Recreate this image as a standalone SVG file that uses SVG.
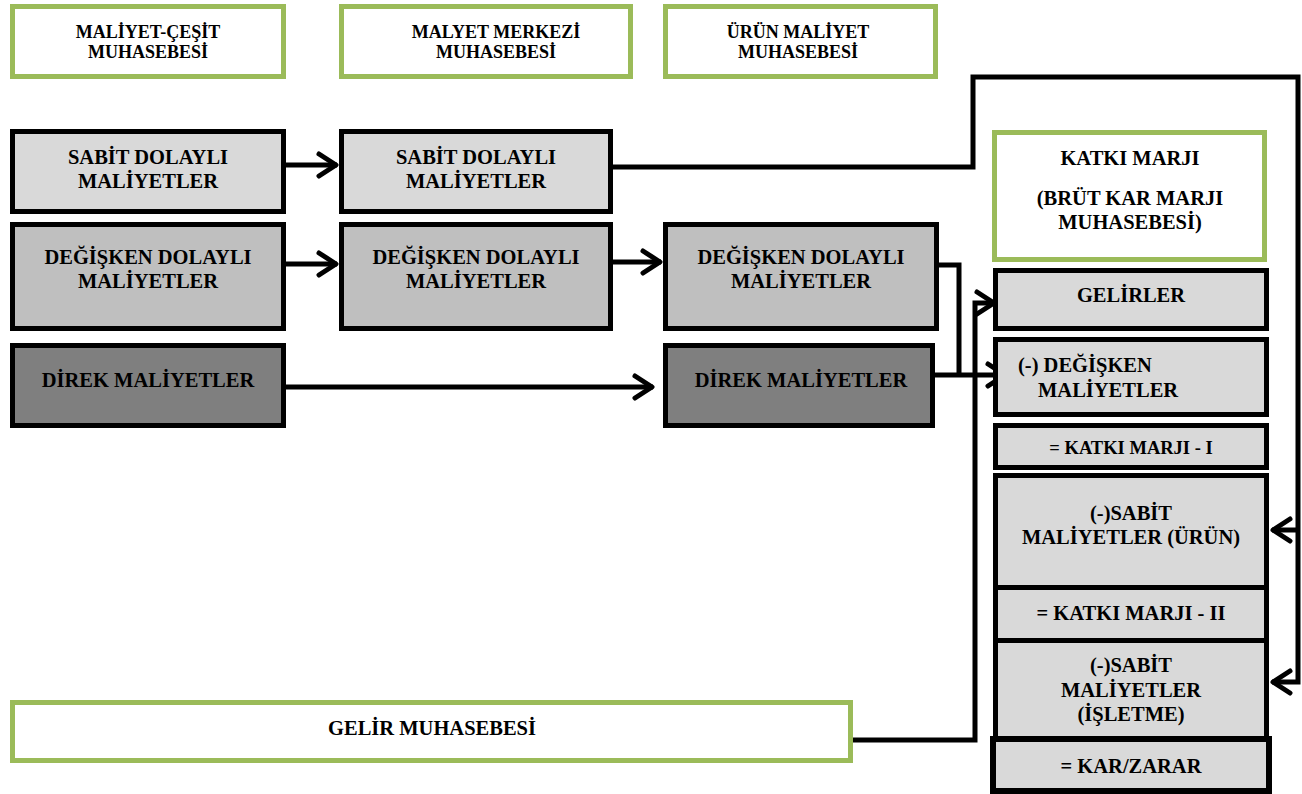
<svg xmlns="http://www.w3.org/2000/svg" width="1302" height="794" viewBox="0 0 1302 794">
<style>
text{font-family:"Liberation Serif","Times New Roman",serif;font-weight:bold;fill:#000;text-anchor:middle}
.t18{font-size:18px}
.t20{font-size:20.5px}
.t185{font-size:18.5px}
.g{fill:#fff;stroke:#9bbb59;stroke-width:5}
.b{stroke:#000;stroke-width:5}
.l1{fill:#d9d9d9}
.l2{fill:#bfbfbf}
.l3{fill:#7f7f7f}
.c{fill:none;stroke:#000;stroke-width:5;stroke-linejoin:miter}
.s{text-anchor:start}
</style>
<defs>
<marker id="ah" markerUnits="userSpaceOnUse" markerWidth="30" markerHeight="30" viewBox="-25 -15 30 30" refX="0" refY="0" orient="auto">
<path d="M-18,-11 L-1,0 L-18,11" fill="none" stroke="#000" stroke-width="5" stroke-linecap="round" stroke-linejoin="round"/>
</marker>
</defs>
<rect width="1302" height="794" fill="#fff"/>
<g id="connectors">
<path class="c" d="M286,165 H337" marker-end="url(#ah)"/>
<path class="c" d="M286,264 H337" marker-end="url(#ah)"/>
<path class="c" d="M613,262 H661" marker-end="url(#ah)"/>
<path class="c" d="M286,387 H653" marker-end="url(#ah)"/>
<path class="c" d="M613,167 H973 V77 H1298 V682 H1272" marker-end="url(#ah)"/>
<path class="c" d="M1298,530 H1272" marker-end="url(#ah)"/>
<path class="c" d="M939,265 H959 V375"/>
<path class="c" d="M935,375 H1006" marker-end="url(#ah)"/>
<path class="c" d="M853,740 H975 V303 H995" marker-end="url(#ah)"/>
</g>
<g id="maliyet-cesit">
<rect class="g" x="12.5" y="6.5" width="271" height="70"/>
<text class="t18" x="148" y="38">MALİYET-ÇEŞİT</text>
<text class="t18" x="148" y="58">MUHASEBESİ</text>
</g>
<g id="maliyet-merkezi">
<rect class="g" x="341.5" y="6.5" width="289" height="70"/>
<text class="t18" x="496" y="38">MALYET MERKEZİ</text>
<text class="t18" x="496" y="58">MUHASEBESİ</text>
</g>
<g id="urun-maliyet">
<rect class="g" x="665.5" y="6.5" width="270" height="70"/>
<text class="t18" x="798" y="38">ÜRÜN MALİYET</text>
<text class="t18" x="798" y="58">MUHASEBESİ</text>
</g>
<g id="sabit-a">
<rect class="b l1" x="12.5" y="131.5" width="271" height="80"/>
<text class="t20" x="148" y="164">SABİT DOLAYLI</text>
<text class="t20" x="148" y="188">MALİYETLER</text>
</g>
<g id="sabit-b">
<rect class="b l1" x="341.5" y="131.5" width="269" height="80"/>
<text class="t20" x="476" y="164">SABİT DOLAYLI</text>
<text class="t20" x="476" y="188">MALİYETLER</text>
</g>
<g id="degisken-a">
<rect class="b l2" x="12.5" y="224.5" width="271" height="104"/>
<text class="t20" x="148" y="264">DEĞİŞKEN DOLAYLI</text>
<text class="t20" x="148" y="288">MALİYETLER</text>
</g>
<g id="degisken-b">
<rect class="b l2" x="341.5" y="224.5" width="269" height="104"/>
<text class="t20" x="476" y="264">DEĞİŞKEN DOLAYLI</text>
<text class="t20" x="476" y="288">MALİYETLER</text>
</g>
<g id="degisken-c">
<rect class="b l2" x="665.5" y="224.5" width="271" height="104"/>
<text class="t20" x="801" y="264">DEĞİŞKEN DOLAYLI</text>
<text class="t20" x="801" y="288">MALİYETLER</text>
</g>
<g id="direk-a">
<rect class="b l3" x="12.5" y="345.5" width="271" height="80"/>
<text class="t20" x="148" y="387">DİREK MALİYETLER</text>
</g>
<g id="direk-c">
<rect class="b l3" x="665.5" y="345.5" width="267" height="80"/>
<text class="t20" x="801" y="387">DİREK MALİYETLER</text>
</g>
<g id="katki-marji">
<rect class="g" x="994.5" y="132.5" width="270" height="127"/>
<text class="t20" x="1130" y="165">KATKI MARJI</text>
<text class="t20" x="1130" y="205">(BRÜT KAR MARJI</text>
<text class="t20" x="1130" y="229">MUHASEBESİ)</text>
</g>
<g id="gelirler">
<rect class="b l1" x="995.5" y="270.5" width="271" height="58"/>
<text class="t20" x="1131" y="302">GELİRLER</text>
</g>
<g id="degisken-maliyetler">
<rect class="b l1" x="995.5" y="339.5" width="271" height="75"/>
<text class="t20 s" x="1018" y="372">(-) DEĞİŞKEN</text>
<text class="t20 s" x="1038" y="397">MALİYETLER</text>
</g>
<g id="katki-1">
<rect class="b l1" x="995.5" y="425.5" width="271" height="42"/>
<text class="t185" x="1131" y="454">= KATKI MARJI - I</text>
</g>
<g id="sabit-urun">
<rect class="b l1" x="995.5" y="475.5" width="271" height="112"/>
<text class="t20" x="1131" y="520">(-)SABİT</text>
<text class="t20" x="1131" y="544">MALİYETLER (ÜRÜN)</text>
</g>
<g id="katki-2">
<rect class="b l1" x="995.5" y="587.5" width="271" height="53"/>
<text class="t20" x="1131" y="620">= KATKI MARJI - II</text>
</g>
<g id="sabit-isletme">
<rect class="b l1" x="995.5" y="640.5" width="271" height="99"/>
<text class="t20" x="1131" y="672">(-)SABİT</text>
<text class="t20" x="1131" y="697">MALİYETLER</text>
<text class="t20" x="1131" y="721">(İŞLETME)</text>
</g>
<g id="kar-zarar">
<rect class="b l1" x="993" y="739" width="276" height="52" style="stroke-width:6"/>
<text class="t20" x="1131" y="773">= KAR/ZARAR</text>
</g>
<g id="gelir-muhasebesi">
<rect class="g" x="12.5" y="702.5" width="838" height="58"/>
<text class="t20" x="432" y="735">GELİR MUHASEBESİ</text>
</g>
</svg>
